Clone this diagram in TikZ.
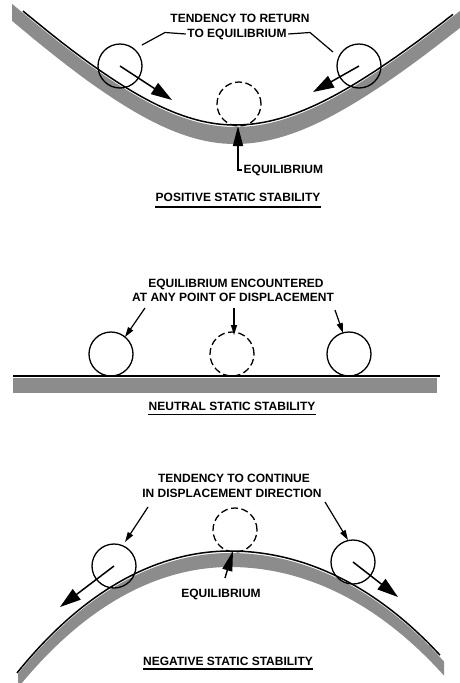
\documentclass[tikz,border=0pt]{standalone}
\usepackage{fontspec}
\setmainfont{Liberation Sans}
\usetikzlibrary{arrows.meta}
\begin{document}
\begin{tikzpicture}[x=1pt,y=-1pt,
  lbl/.style={font=\bfseries\fontsize{12}{14}\selectfont, inner sep=0pt, anchor=base},
  ball/.style={circle, draw, line width=1.3pt, minimum size=44pt, inner sep=0pt},
  eqball/.style={ball, dash pattern=on 7pt off 3.5pt},
  surf/.style={line width=1.5pt},
  band/.style={fill=black!45, draw=none},
  bigarrow/.style={line width=1.5pt, -{Triangle[length=21pt,width=13pt]}},
  eqarrow/.style={line width=1.4pt, -{Triangle[length=20pt,width=10pt]}},
  smallarrow/.style={line width=1.2pt, -{Triangle[length=10pt,width=6pt]}},
  leader/.style={line width=1.2pt},
  uline/.style={line width=1.4pt}]
\useasboundingbox (0,0) rectangle (460,683);

% ---------------- POSITIVE -----------------
\fill[band] plot[domain=12:460, samples=90]
   (\x, {125 - ifthenelse(\x<235,1,0.93)*(10*veclen((\x-235)/10,14)-140) + 2})
 -- plot[domain=460:12, samples=90]
   (\x, {125 - ifthenelse(\x<235,1,0.93)*(10*veclen((\x-235)/10,14)-140) + 19}) -- cycle;
\draw[surf] plot[domain=23:453, samples=90]
   (\x, {125 - ifthenelse(\x<235,1,0.93)*(10*veclen((\x-235)/10,14)-140)});

\node[ball] (b1) at (120,66) {};
\node[ball] (b2) at (359,66) {};
\node[eqball] (b0) at (239,104) {};

\coordinate (a1) at (172,100);
\coordinate (a2) at (313,92);
\draw[bigarrow] (b1.center) -- (a1);
\draw[bigarrow] (b2.center) -- (a2);

\node[lbl] (t1) at (240,22) {TENDENCY TO RETURN};
\node[lbl, inner xsep=1.5pt] (t2) at (237,37) {TO EQUILIBRIUM};
\coordinate (l1) at (142,45);
\coordinate (l2) at (333,52);
\draw[leader] (t2.west) -- (165,32.5) -- (l1);
\draw[leader] (t2.east) -- (310,32.5) -- (l2);

\node[lbl, anchor=base west, inner xsep=1.5pt] (e1) at (242,173) {EQUILIBRIUM};
\coordinate (eq1) at (238,126);
\draw[eqarrow] (e1.west) -| (eq1);

\node[lbl] (p1) at (238,201) {POSITIVE STATIC STABILITY};
\draw[uline] ([yshift=-6pt]p1.base west) -- ([yshift=-6pt]p1.base east);

% ---------------- NEUTRAL -----------------
\fill[band] (13,378) rectangle (437,393);
\draw[surf] (13,376) -- (440,376);

\node[ball] (m1) at (111,354) {};
\node[eqball] (m0) at (232,354) {};
\node[ball] (m2) at (349,354) {};

\node[lbl] (t3) at (236,287) {EQUILIBRIUM ENCOUNTERED};
\node[lbl] (t4) at (233,301) {AT ANY POINT OF DISPLACEMENT};
\coordinate (s1) at (145,308);
\coordinate (s0) at (234,308);
\coordinate (s2) at (335,310);
\coordinate (h1) at (125,337);
\coordinate (h0) at (234,335);
\coordinate (h2) at (343,333);
\draw[smallarrow] (s1) -- (h1);
\draw[smallarrow] (s0) -- (h0);
\draw[smallarrow] (s2) -- (h2);

\node[lbl] (p2) at (232,410) {NEUTRAL STATIC STABILITY};
\draw[uline] ([yshift=-4.5pt]p2.base west) -- ([yshift=-4.5pt]p2.base east);

% ---------------- NEGATIVE -----------------
\fill[band] plot[domain=18:444, samples=90]
   (\x, {551 + ifthenelse(\x<230,24.7,21.5)*((\x-230)/100)^2 + 0.48*((\x-230)/100)^4 + 2})
 -- plot[domain=444:18, samples=90]
   (\x, {551 + ifthenelse(\x<230,24.7,21.5)*((\x-230)/100)^2 + 0.48*((\x-230)/100)^4 + 16}) -- cycle;
\draw[surf] plot[domain=17:440, samples=90]
   (\x, {551 + ifthenelse(\x<230,24.7,21.5)*((\x-230)/100)^2 + 0.48*((\x-230)/100)^4});

\node[ball] (n1) at (114,566) {};
\node[ball] (n2) at (353,562) {};
\node[eqball] (n0) at (235,530) {};

\coordinate (c1) at (60,607);
\coordinate (c2) at (398,597);
\draw[bigarrow] (n1.center) -- (c1);
\draw[bigarrow] (n2.center) -- (c2);

\node[lbl] (t5) at (234,482) {TENDENCY TO CONTINUE};
\node[lbl] (t6) at (232,497) {IN DISPLACEMENT DIRECTION};
\coordinate (r1) at (148,507);
\coordinate (r2) at (325,502);
\coordinate (k1) at (125,542);
\coordinate (k2) at (348,540);
\draw[smallarrow] (r1) -- (k1);
\draw[smallarrow] (r2) -- (k2);

\node[lbl] (e3) at (221,597) {EQUILIBRIUM};
\coordinate (q0) at (225,578);
\coordinate (q1) at (233,551);
\draw[eqarrow] (q0) -- (q1);

\node[lbl] (p3) at (228,665) {NEGATIVE STATIC STABILITY};
\draw[uline] ([yshift=-4pt]p3.base west) -- ([yshift=-4pt]p3.base east);
\end{tikzpicture}
\end{document}
